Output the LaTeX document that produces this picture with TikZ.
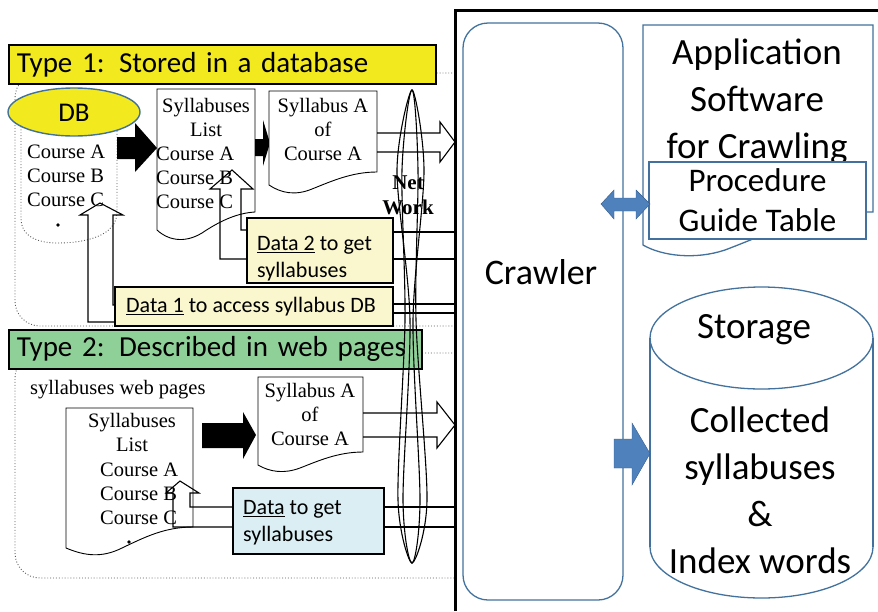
\documentclass[tikz,border=0pt]{standalone}
\usepackage{fontspec}
\setmainfont{Carlito}
\newfontfamily\tms{Liberation Serif}
\usetikzlibrary{positioning}

\definecolor{typeyellow}{RGB}{242,234,30}
\definecolor{typegreen}{RGB}{143,207,152}
\definecolor{paleyellow}{RGB}{250,246,206}
\definecolor{paleblue}{RGB}{218,238,243}
\definecolor{blueline}{RGB}{65,113,156}
\definecolor{arrowblue}{RGB}{79,129,189}
\definecolor{arrowedge}{RGB}{56,93,138}

\tikzset{
  typebox/.style={draw, line width=1.6pt, anchor=north west, inner xsep=8pt,
    minimum height=39pt, font=\fontsize{29}{34}\selectfont, align=left},
  serif/.style={font=\tms\fontsize{20.5}{24}\selectfont, inner sep=0pt},
  datatext/.style={font=\fontsize{22}{27}\selectfont, inner sep=0pt, align=left, anchor=west},
  bigtext/.style={font=\fontsize{37}{47}\selectfont, inner sep=0pt, align=center},
  docshape/.style={draw, line width=0.9pt, fill=white},
  hollow/.style={draw, line width=1.1pt},
  wire/.style={line width=1.1pt},
  region/.style={dotted, line width=0.9pt, gray!70!black},
  bluebox/.style={draw=blueline, line width=1.3pt},
}

\begin{document}
\begin{tikzpicture}[x=1pt, y=-1pt]
  \useasboundingbox (0,0) rectangle (878,611);
  % --- Type 1: syllabus DB ---
  \draw[region, rounded corners=25] (455,73) -| (15,326) -- (455,326);
  \draw[region] (21,112) -- (21,218) .. controls (21,238) and (40,243) .. (58,243)
    .. controls (85,243) and (117,236) .. (117,212) -- (117,112);
  \filldraw[fill=typeyellow, draw=blueline, line width=1.4pt] (74,112) ellipse [x radius=66, y radius=24];
  \node[font=\fontsize{27}{30}\selectfont, inner sep=0pt] (db) at (74,113) {DB};
  \node[serif, align=left, anchor=west] (dbcourses) at (27,176) {Course A\\Course B\\Course C};
  \fill (58,225) circle (1.8);

  \fill (117,137) -- (135,137) -- (135,123) -- (157,148) -- (135,172) -- (135,159) -- (117,159) -- cycle;

  \draw[docshape] (157,89) -- (255,89) -- (255,212) .. controls (238,213) and (222,220) .. (205,231)
    .. controls (188,243) and (170,242) .. (157,230) -- cycle;
  \node[serif, align=center] (dblist) at (206,117.5) {Syllabuses\\List};
  \node[serif, align=left, anchor=west] (dblistc) at (156,178) {Course A\\Course B\\Course C};

  \fill (255,139) -- (263,139) -- (263,120) -- (270,143) -- (263,166) -- (263,156) -- (255,156) -- cycle;

  \draw[docshape] (269,91) -- (377,91) -- (377,172) .. controls (352,172) and (332,181) .. (312,189)
    .. controls (295,196) and (281,193) .. (269,185) -- cycle;
  \node[serif, align=center] (dbsyl) at (323,129) {Syllabus A\\of\\Course A};
  \draw[hollow] (377,133) -- (440,133) -- (440,122) -- (455,142) -- (440,162) -- (440,152) -- (377,152);

  \draw[hollow] (247,259) -- (220,259) -- (220,189) -- (210,189) -- (232,170) -- (253,189)
    -- (241,189) -- (241,230) -- (247,230);
  \draw[wire, fill=paleyellow] (247,218) rectangle (393,283);
  \node[datatext] (data2) at (257,258.5) {\underline{Data 2} to get\\syllabuses};
  \draw[wire] (393,232) -- (455,232);
  \draw[wire] (393,259) -- (455,259);

  \draw[hollow] (115,322) -- (88,322) -- (88,215) -- (80,215) -- (100,203) -- (123,215)
    -- (113,215) -- (113,305) -- (115,305);
  \draw[wire, fill=paleyellow] (115,287) rectangle (393,326);
  \node[datatext] (data1) at (126,307) {\underline{Data 1} to access syllabus DB};
  \draw[wire] (393,304) -- (455,304);
  \draw[wire] (393,313) -- (455,313);

  \node[typebox, fill=typeyellow, minimum width=427pt, text width=411pt] (type1) at (8,44) {Type 1: Stored in a database};

  % --- Type 2: web pages ---
  \draw[region, rounded corners=25] (455,353) -| (15,578) -- (455,578);
  \draw[densely dotted, line width=1.2pt, gray] (14,369) -- (388,369);
  \node[serif, anchor=west] (webpages) at (30,390) {syllabuses web pages};

  \draw[docshape] (66,408) -- (193,408) -- (193,527) .. controls (165,527) and (145,537) .. (122,548)
    .. controls (102,558) and (85,556) .. (66,548) -- cycle;
  \node[serif, align=center] (weblist) at (132,432) {Syllabuses\\List};
  \node[serif, align=left, anchor=west] (weblistc) at (100,494) {Course A\\Course B\\Course C};
  \fill (129,542) circle (1.8);

  \fill (202,423) -- (243,423) -- (243,412) -- (256,435) -- (243,459) -- (243,448) -- (202,448) -- cycle;

  \draw[docshape] (258,377) -- (363,377) -- (363,452) .. controls (338,452) and (318,461) .. (300,468)
    .. controls (284,474) and (270,472) .. (258,465) -- cycle;
  \node[serif, align=center] (websyl) at (310,414) {Syllabus A\\of\\Course A};
  \draw[hollow] (363,413) -- (437,413) -- (437,402) -- (455,425) -- (437,448) -- (437,437) -- (363,437);

  \draw[hollow] (233,527) -- (173,527) -- (173,493) -- (166,493) -- (180,481) -- (199,493)
    -- (190,493) -- (190,507) -- (233,507);
  \draw[wire, fill=paleblue] (233,488) rectangle (384,554);
  \node[datatext] (webdata) at (243,523) {\underline{Data} to get\\syllabuses};
  \draw[wire] (384,507) -- (455,507);
  \draw[wire] (384,527) -- (455,527);

  \node[typebox, fill=typegreen, minimum width=413pt, text width=397pt] (type2) at (8,329) {Type 2: Described in web pages};

  % --- network ---
  \draw[wire] plot[smooth cycle] coordinates {(412,90) (418,170) (416,320) (427,500) (412,563) (403,500) (410,320) (397,170)};
  \draw[wire] plot[smooth cycle] coordinates {(412,90) (424,170) (413,320) (420,500) (412,563) (398,500) (405,320) (402,170)};
  \node[font=\tms\bfseries\fontsize{21}{25}\selectfont, align=center, inner sep=0pt] (net) at (408,195) {Net\\Work};

  % --- crawler side ---
  \draw[line width=3pt] (455,611) -- (455,10) -- (880,10);
  \node[bluebox, rounded corners=25pt, minimum width=160pt, minimum height=577pt] (crawler) at (543,311.5) {};
  \node[font=\fontsize{36}{40}\selectfont, inner sep=0pt] (crawlertxt) at (541,272) {Crawler};

  \draw[bluebox, fill=white] (643,25) -- (873,25) -- (873,212) .. controls (810,212) and (765,235) .. (725,250)
    .. controls (695,260) and (662,256) .. (643,245) -- cycle;
  \node[bigtext] (app) at (757,102) {Application\\Software\\for Crawling};
  \node[bluebox, fill=white, minimum width=217pt, minimum height=77pt, align=center,
    font=\fontsize{33}{40}\selectfont, inner sep=0pt] (guide) at (757.5,200.5) {Procedure\\Guide Table};
  \filldraw[fill=arrowblue, draw=arrowedge] (601,204) -- (614,190) -- (614,198) -- (636,198) -- (636,190)
    -- (650,204) -- (636,219) -- (636,211) -- (614,211) -- (614,219) -- cycle;

  \fill[white] (650,338) rectangle (873,547);
  \draw[bluebox] (650,338) -- (650,547);
  \draw[bluebox] (873,338) -- (873,547);
  \draw[bluebox] (650,547) arc[start angle=180, end angle=360, x radius=111.5pt, y radius=51pt];
  \draw[bluebox] (761.5,338) ellipse [x radius=111.5, y radius=51];
  \node[font=\fontsize{37}{40}\selectfont, inner sep=0pt] (storage) at (754,330) {Storage};
  \node[bigtext] (collected) at (760,490) {Collected\\syllabuses\\\&\\Index words};
  \filldraw[fill=arrowblue, draw=arrowedge] (614,439) -- (632,439) -- (632,423) -- (650,453.5) -- (632,485)
    -- (632,468) -- (614,468) -- cycle;
\end{tikzpicture}
\end{document}
